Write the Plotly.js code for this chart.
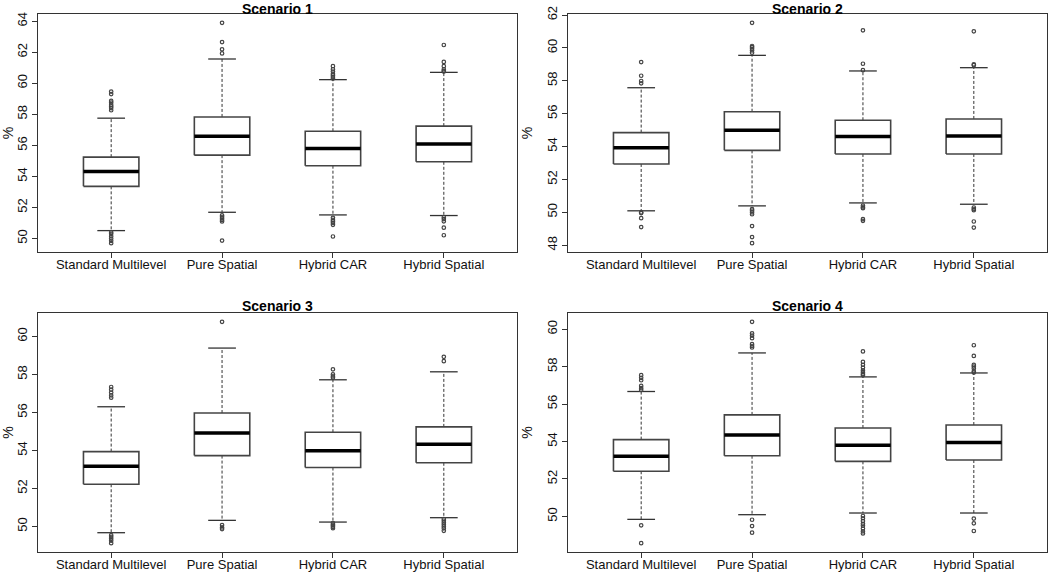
<!DOCTYPE html>
<html>
<head>
<meta charset="utf-8">
<script src="https://cdn.plot.ly/plotly-3.0.1.min.js"></script>
<style>html,body{margin:0;padding:0;background:#fff;}#chart{width:1050px;height:572px;}</style>
</head>
<body>
<div id="chart"></div>
<script>
const categories = ['Standard Multilevel', 'Pure Spatial', 'Hybrid CAR', 'Hybrid Spatial'];
const scenarioTitles = ['Scenario 1', 'Scenario 2', 'Scenario 3', 'Scenario 4'];

// Scenario 1
const s1Q1  = [53.36, 55.37, 54.69, 54.94];
const s1Med = [54.32, 56.59, 55.80, 56.08];
const s1Q3  = [55.24, 57.83, 56.91, 57.24];
const s1Lo  = [50.51, 51.69, 51.52, 51.48];
const s1Hi  = [57.75, 61.56, 60.23, 60.70];
const s1Out = [
  [59.46, 59.3, 58.86, 58.75, 58.6, 58.5, 58.4, 58.26, 50.4, 50.3, 50.15, 50.0, 49.85, 49.7],
  [63.89, 62.65, 62.18, 61.92, 51.5, 51.4, 51.3, 51.2, 51.1, 49.87],
  [61.1, 60.9, 60.75, 60.6, 60.5, 60.4, 60.3, 51.33, 51.2, 51.1, 51.0, 50.88, 50.13],
  [62.46, 61.37, 61.1, 60.9, 60.8, 60.75, 51.37, 51.25, 51.11, 50.7, 50.21]
];

// Scenario 2
const s2Q1  = [52.94, 53.77, 53.55, 53.55];
const s2Med = [53.92, 54.99, 54.61, 54.65];
const s2Q3  = [54.85, 56.12, 55.60, 55.68];
const s2Lo  = [50.09, 50.39, 50.57, 50.49];
const s2Hi  = [57.58, 59.55, 58.60, 58.80];
const s2Out = [
  [59.14, 58.31, 57.99, 57.85, 49.99, 49.95, 49.64, 49.1],
  [61.53, 60.12, 60.05, 59.95, 59.85, 59.71, 50.19, 50.1, 50.0, 49.88, 49.16, 48.49, 48.12],
  [61.07, 59.04, 58.65, 50.4, 50.3, 50.25, 49.58, 49.48],
  [61.01, 59.0, 58.95, 50.29, 50.2, 50.13, 49.44, 49.07]
];

// Scenario 3
const s3Q1  = [52.22, 53.73, 53.10, 53.35];
const s3Med = [53.17, 54.92, 53.99, 54.33];
const s3Q3  = [53.94, 55.97, 54.96, 55.24];
const s3Lo  = [49.67, 50.32, 50.23, 50.46];
const s3Hi  = [56.30, 59.39, 57.72, 58.14];
const s3Out = [
  [57.34, 57.2, 57.05, 56.9, 56.78, 49.54, 49.45, 49.35, 49.25, 49.12],
  [60.77, 50.07, 49.95, 49.86],
  [58.27, 58.0, 57.9, 57.83, 50.18, 50.1, 50.05, 49.98, 49.91],
  [58.93, 58.7, 50.39, 50.3, 50.2, 50.1, 50.0, 49.9, 49.77]
];

// Scenario 4
const s4Q1  = [52.41, 53.24, 52.94, 53.01];
const s4Med = [53.21, 54.35, 53.80, 53.94];
const s4Q3  = [54.10, 55.42, 54.72, 54.88];
const s4Lo  = [49.84, 50.09, 50.18, 50.18];
const s4Hi  = [56.67, 58.73, 57.45, 57.66];
const s4Out = [
  [57.54, 57.4, 57.27, 56.97, 56.85, 56.75, 49.52, 48.57],
  [60.39, 59.77, 59.65, 59.52, 59.2, 59.1, 59.02, 49.82, 49.48, 49.13],
  [58.81, 58.25, 58.1, 57.95, 57.8, 57.7, 57.6, 57.54, 50.02, 49.9, 49.75, 49.6, 49.5, 49.35, 49.2, 49.09],
  [59.14, 58.57, 58.09, 58.0, 57.9, 57.75, 57.68, 49.88, 49.63, 49.22]
];

const panels = [
  {q1: s1Q1, med: s1Med, q3: s1Q3, lo: s1Lo, hi: s1Hi, out: s1Out},
  {q1: s2Q1, med: s2Med, q3: s2Q3, lo: s2Lo, hi: s2Hi, out: s2Out},
  {q1: s3Q1, med: s3Med, q3: s3Q3, lo: s3Lo, hi: s3Hi, out: s3Out},
  {q1: s4Q1, med: s4Med, q3: s4Q3, lo: s4Lo, hi: s4Hi, out: s4Out}
];

const W = 1050, H = 572;
const xDomains = [[38/W, 517/W], [568/W, 1047/W], [38/W, 517/W], [568/W, 1047/W]];
const yDomains = [[1-252/H, 1-14/H], [1-252/H, 1-14/H], [1-552/H, 1-313/H], [1-552/H, 1-313/H]];
const titleTop = [0, 0, 297, 297];
const boxHalf = 0.25, capHalf = 0.125;
const FONT = 'Liberation Sans, Arial, sans-serif';

const traces = [];
const layout = {
  width: W, height: H,
  margin: {l: 0, r: 0, t: 0, b: 0},
  paper_bgcolor: '#fff', plot_bgcolor: '#fff',
  showlegend: false,
  font: {family: FONT, size: 13, color: '#000'},
  annotations: []
};

panels.forEach((p, k) => {
  const xa = k === 0 ? 'x' : 'x' + (k + 1);
  const ya = k === 0 ? 'y' : 'y' + (k + 1);
  const pos = categories.map((c, i) => i + 1);

  const bx = [], by = [], mx = [], my = [], wx = [], wy = [], cx = [], cy = [], ox = [], oy = [];
  pos.forEach((x, i) => {
    bx.push(x - boxHalf, x + boxHalf, x + boxHalf, x - boxHalf, x - boxHalf, null);
    by.push(p.q1[i], p.q1[i], p.q3[i], p.q3[i], p.q1[i], null);
    mx.push(x - boxHalf, x + boxHalf, null);
    my.push(p.med[i], p.med[i], null);
    wx.push(x, x, null, x, x, null);
    wy.push(p.q3[i], p.hi[i], null, p.q1[i], p.lo[i], null);
    cx.push(x - capHalf, x + capHalf, null, x - capHalf, x + capHalf, null);
    cy.push(p.hi[i], p.hi[i], null, p.lo[i], p.lo[i], null);
    p.out[i].forEach(v => { ox.push(x); oy.push(v); });
  });

  traces.push({type: 'scatter', mode: 'lines', x: wx, y: wy, xaxis: xa, yaxis: ya,
    line: {color: '#333', width: 1, dash: '3px,2px'}, hoverinfo: 'skip'});
  traces.push({type: 'scatter', mode: 'lines', x: cx, y: cy, xaxis: xa, yaxis: ya,
    line: {color: '#333', width: 1.3}, hoverinfo: 'skip'});
  traces.push({type: 'scatter', mode: 'lines', x: bx, y: by, xaxis: xa, yaxis: ya,
    fill: 'toself', fillcolor: '#fff', line: {color: '#444', width: 1.6}, hoverinfo: 'skip'});
  traces.push({type: 'scatter', mode: 'lines', x: mx, y: my, xaxis: xa, yaxis: ya,
    line: {color: '#000', width: 3.5}, hoverinfo: 'skip'});
  traces.push({type: 'scatter', mode: 'markers', x: ox, y: oy, xaxis: xa, yaxis: ya,
    marker: {symbol: 'circle-open', size: 3.5, color: '#444', line: {width: 1.2, color: '#444'}}, hoverinfo: 'skip'});

  // R-style 4% padding of the data range
  const all = [].concat(p.lo, p.hi, ...p.out);
  const mn = Math.min(...all), mxv = Math.max(...all);
  const pad = (mxv - mn) * 0.04;

  const xKey = k === 0 ? 'xaxis' : 'xaxis' + (k + 1);
  const yKey = k === 0 ? 'yaxis' : 'yaxis' + (k + 1);
  layout[xKey] = {
    domain: xDomains[k], anchor: ya, range: [0.5 - 0.16, categories.length + 0.5 + 0.16],
    tickmode: 'array', tickvals: pos, ticktext: categories,
    ticks: 'outside', ticklen: 5, tickwidth: 1, tickcolor: '#333',
    ticklabelstandoff: -5,
    showline: true, mirror: true, linecolor: '#333', linewidth: 1.3,
    showgrid: false, zeroline: false,
    tickfont: {family: FONT, size: 13, color: '#111'}
  };
  layout[yKey] = {
    domain: yDomains[k], anchor: xa, range: [mn - pad, mxv + pad],
    tick0: 0, dtick: 2, ticks: 'outside', ticklen: 5, tickwidth: 1, tickcolor: '#333',
    tickangle: -90,
    showline: true, mirror: true, linecolor: '#333', linewidth: 1.3,
    showgrid: false, zeroline: false,
    tickfont: {family: FONT, size: 13, color: '#111'},
    title: {text: '%', standoff: 8, font: {family: FONT, size: 14, color: '#111'}}
  };
  layout.annotations.push({
    text: '<b>' + scenarioTitles[k] + '</b>', xref: 'paper', yref: 'paper',
    x: (xDomains[k][0] + xDomains[k][1]) / 2, y: 1 - titleTop[k] / H,
    xanchor: 'center', yanchor: 'top', showarrow: false, borderpad: 0,
    font: {family: FONT, size: 14, color: '#000'}
  });
});

Plotly.newPlot('chart', traces, layout, {displayModeBar: false, staticPlot: true});
</script>
</body>
</html>
